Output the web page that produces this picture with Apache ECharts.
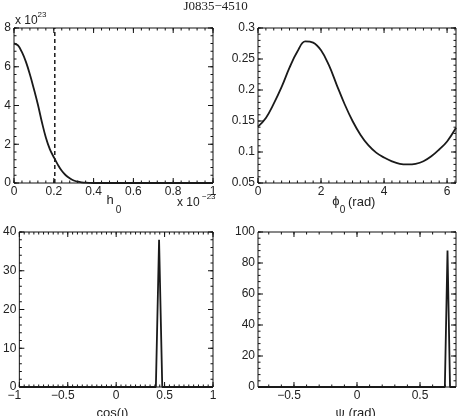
<!DOCTYPE html>
<html>
<head>
<meta charset="utf-8">
<script src="https://cdn.jsdelivr.net/npm/echarts@6/dist/echarts.min.js"></script>
<style>
  html, body { margin: 0; padding: 0; background: #fff; }
  #main { width: 462px; height: 416px; }
</style>
</head>
<body>
<div id="main"></div>
<script>
// h0 posterior: x in units of 1e-23, y in units of 1e23
var h0Vals = [0, 0.02, 0.04, 0.06, 0.08, 0.10, 0.12, 0.14, 0.16, 0.18, 0.20, 0.22, 0.24, 0.26, 0.28, 0.30, 0.32, 0.34, 0.36, 0.38, 0.40, 0.5, 0.6, 0.7, 0.8, 0.9, 1.0]
var h0Pdf = [7.2, 7.1, 6.75, 6.25, 5.6, 4.85, 4.05, 3.15, 2.35, 1.75, 1.33, 0.95, 0.63, 0.4, 0.24, 0.13, 0.07, 0.035, 0.015, 0.005, 0, 0, 0, 0, 0, 0, 0]
var h0Limit = 0.205 // dashed upper limit
// phi0 posterior
var phiVals = [0, 0.25, 0.5, 0.75, 1.0, 1.25, 1.5, 1.75, 2.0, 2.25, 2.5, 2.75, 3.0, 3.25, 3.5, 3.75, 4.0, 4.25, 4.5, 4.75, 5.0, 5.25, 5.5, 5.75, 6.0, 6.2832]
var phiPdf = [0.141, 0.155, 0.178, 0.205, 0.236, 0.262, 0.2785, 0.2765, 0.264, 0.240, 0.208, 0.177, 0.150, 0.128, 0.111, 0.099, 0.091, 0.085, 0.081, 0.080, 0.081, 0.085, 0.093, 0.104, 0.117, 0.139]
// cos(iota) posterior
var cosiVals = [-1, 0.41, 0.443, 0.476, 1]
var cosiPdf = [0, 0, 38, 0, 0]
// psi posterior
var psiVals = [-0.7854, 0.697, 0.718, 0.738, 0.7854]
var psiPdf = [0, 0, 88, 0, 0]

// tick labels
var h0Ticks = [0, 0.2, 0.4, 0.6, 0.8, 1]
var h0PdfTicks = [0, 2, 4, 6, 8]
var phiTicks = [0, 2, 4, 6]
var phiPdfTicks = [0.05, 0.1, 0.15, 0.2, 0.25, 0.3]
var cosiTicks = [-1, -0.5, 0, 0.5, 1]
var cosiPdfTicks = [0, 10, 20, 30, 40]
var psiTicks = [-0.5, 0, 0.5]
var psiPdfTicks = [0, 20, 40, 60, 80, 100]

var FONT = '"Liberation Sans", "DejaVu Sans", sans-serif'
var INK = '#1a1a1a'
var MAJOR = 5
var MINOR = 2.5

function minors(min, max, step) {
  var out = []
  var k0 = Math.ceil(min / step - 1e-9)
  var k1 = Math.floor(max / step + 1e-9)
  for (var k = k0; k <= k1; k++) out.push(+(k * step).toFixed(6))
  return out
}
// negative labels sit a bit left of their tick, like in the original
function fmt(v) {
  v = +(+v).toFixed(6)
  return v < 0 ? '{n|' + String(v).replace('-', '\u2212') + '}' : String(v)
}
function pairs(xs, ys) { return xs.map(function(x, i) { return [x, ys[i]] }) }

var panels = [
  { x: [0, 1], y: [0, 8], xt: h0Ticks, yt: h0PdfTicks, xm: 0.04, ym: 0.4 },
  { x: [0, 2 * Math.PI], y: [0.05, 0.3], xt: phiTicks, yt: phiPdfTicks, xm: 0.25, ym: 0.01 },
  { x: [-1, 1], y: [0, 40], xt: cosiTicks, yt: cosiPdfTicks, xm: 0.05, ym: 2 },
  { x: [-Math.PI / 4, Math.PI / 4], y: [0, 100], xt: psiTicks, yt: psiPdfTicks, xm: 0.1, ym: 4 }
]

function axis(grid, range, ticks) {
  var a = {
    type: 'value', gridIndex: grid, min: range[0], max: range[1],
    axisLine: { show: false, onZero: false },
    axisTick: { show: false },
    axisLabel: {
      formatter: fmt, margin: 3, color: '#222', fontSize: 12, fontFamily: FONT, hideOverlap: false,
      rich: { n: { fontSize: 12, fontFamily: FONT, color: '#222', padding: [0, 10, 0, 0] } }
    },
    splitLine: { show: false }
  }
  var step = +(ticks[1] - ticks[0]).toFixed(6)
  if (Math.abs(range[0] / step - Math.round(range[0] / step)) < 1e-6) {
    a.interval = step
    a.axisLabel.showMaxLabel = Math.abs(ticks[ticks.length - 1] - range[1]) < 1e-6
  } else {
    a.axisLabel.customValues = ticks
  }
  return a
}

// inward ticks on all four sides, drawn through the axis scales
function tickSeries(grid, dim, p, majors, minorStep) {
  var data = minors(p[dim][0], p[dim][1], minorStep).map(function(v) { return [v, MINOR] })
  majors.forEach(function(v) { data.push([v, MAJOR]) })
  return {
    type: 'custom', xAxisIndex: grid, yAxisIndex: grid, silent: true, animation: false, clip: false,
    data: data, z: 3,
    renderItem: function(params, api) {
      var v = api.value(0)
      var L = api.value(1)
      var st = { stroke: '#111', lineWidth: 1 }
      var a, b
      if (dim === 'x') {
        a = api.coord([v, p.y[0]])
        b = api.coord([v, p.y[1]])
        return { type: 'group', children: [
          { type: 'line', shape: { x1: a[0], y1: a[1], x2: a[0], y2: a[1] - L }, style: st },
          { type: 'line', shape: { x1: b[0], y1: b[1], x2: b[0], y2: b[1] + L }, style: st }
        ] }
      }
      a = api.coord([p.x[0], v])
      b = api.coord([p.x[1], v])
      return { type: 'group', children: [
        { type: 'line', shape: { x1: a[0], y1: a[1], x2: a[0] + L, y2: a[1] }, style: st },
        { type: 'line', shape: { x1: b[0], y1: b[1], x2: b[0] - L, y2: b[1] }, style: st }
      ] }
    }
  }
}

function lineSeries(grid, data, extra) {
  var s = {
    type: 'line', xAxisIndex: grid, yAxisIndex: grid, data: data,
    showSymbol: false, symbol: 'none', silent: true, animation: false,
    lineStyle: { color: INK, width: 1.8 }
  }
  for (var k in extra) s[k] = extra[k]
  return s
}

function txt(x, y, text, size, extra) {
  var st = { text: text, fill: '#222', fontSize: size, fontFamily: FONT, align: 'center', verticalAlign: 'middle' }
  for (var k in extra) st[k] = extra[k]
  return { type: 'text', x: x, y: y, style: st, silent: true }
}

var series = [
  lineSeries(0, pairs(h0Vals, h0Pdf), { smooth: 0.4 }),
  lineSeries(0, [[h0Limit, 0], [h0Limit, 8]], { lineStyle: { color: INK, width: 1.5, type: [4, 3] } }),
  lineSeries(1, pairs(phiVals, phiPdf), { smooth: 0.4 }),
  lineSeries(2, pairs(cosiVals, cosiPdf)),
  lineSeries(3, pairs(psiVals, psiPdf))
]
panels.forEach(function(p, i) {
  series.push(tickSeries(i, 'x', p, p.xt, p.xm))
  series.push(tickSeries(i, 'y', p, p.yt, p.ym))
})

var box = { show: true, borderColor: '#111', borderWidth: 1, backgroundColor: 'transparent' }
var chart = echarts.init(document.getElementById('main'))
chart.setOption({
  animation: false,
  backgroundColor: '#fff',
  grid: [
    Object.assign({ left: 14, top: 28, width: 199, height: 155 }, box),
    Object.assign({ left: 258, top: 28, width: 198, height: 155 }, box),
    Object.assign({ left: 14, top: 232, width: 199, height: 155 }, box),
    Object.assign({ left: 258, top: 232, width: 198, height: 155 }, box)
  ],
  xAxis: panels.map(function(p, i) { return axis(i, p.x, p.xt) }),
  yAxis: panels.map(function(p, i) { return axis(i, p.y, p.yt) }),
  series: series,
  graphic: [
    txt(215.6, 7, 'J0835\u22124510', 13, { fontFamily: '"Liberation Serif", serif' }),
    // top-left y scale
    txt(15, 21, 'x 10', 12, { align: 'left' }),
    txt(37.5, 15, '23', 8, { align: 'left' }),
    // top-left x name and scale
    txt(110, 200, 'h', 13),
    txt(118.5, 210, '0', 10),
    txt(177, 202.5, 'x 10', 12, { align: 'left' }),
    txt(202, 197, '\u221223', 8, { align: 'left' }),
    // top-right x name
    txt(336, 201, '\u03d5', 13),
    txt(342.5, 210, '0', 10),
    txt(348, 202, '(rad)', 13, { align: 'left' }),
    // bottom names
    txt(112.5, 413, 'cos(\u03b9)', 13),
    txt(355.7, 413, '\u03c8 (rad)', 13)
  ]
})
</script>
</body>
</html>
